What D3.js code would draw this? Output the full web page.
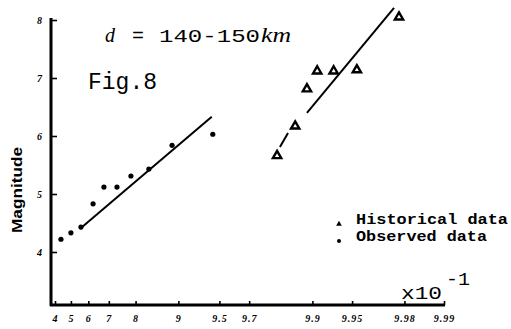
<!DOCTYPE html>
<html>
<head>
<script src="https://d3js.org/d3.v7.min.js"></script>
<style>
    body { margin: 0; background: #fff; }
    svg { display: block; background: #fff; }
    .tick text {
        font-family: "Liberation Serif", serif;
        font-weight: bold;
        font-style: italic;
        font-size: 10px;
        fill: #000;
    }
    .tick line { stroke: #000; stroke-width: 1.6; }
    .mono { font-family: "Liberation Mono", monospace; fill: #000; }
</style>
</head>
<body>
<div id="chart"></div>
<script>
const width = 511;
const height = 329;

// axis ticks (cumulative probability x10^-1, Gumbel paper)
const xTicks = [4, 5, 6, 7, 8, 9, 9.5, 9.7, 9.9, 9.95, 9.98, 9.99];
const yTicks = [4, 5, 6, 7, 8];

// observed data (dots)
const observedX = [4.38, 5.0, 5.59, 6.25, 6.78, 7.34, 7.85, 8.38, 8.89, 9.44];
const observedM = [4.22, 4.33, 4.43, 4.83, 5.12, 5.12, 5.31, 5.43, 5.84, 6.03];

// historical data (triangles)
const historicalX = [9.815, 9.865, 9.890, 9.908, 9.931, 9.954, 9.978];
const historicalM = [5.66, 6.17, 6.81, 7.12, 7.12, 7.14, 8.05];

// fitted lines
const observedFitX = [5.54, 9.43];
const observedFitM = [4.40, 6.33];
const historicalFitX = [9.890, 9.976];
const historicalFitM = [6.40, 8.21];
const historicalDashX = [9.824, 9.847];
const historicalDashM = [5.81, 6.05];

const gumbel = v => -Math.log(-Math.log(v / 10));

const xg = d3.scaleLinear()
    .domain([gumbel(4), gumbel(9.99)])
    .range([55, 444]);
const x = v => xg(gumbel(v));
const y = d3.scaleLinear().domain([4, 8]).range([252, 20]);

const axisY = 305, axisX = 51;

const svg = d3.select('#chart').append('svg')
    .attr('width', width)
    .attr('height', height);

// x axis
const xAxis = svg.append('g')
    .attr('transform', `translate(0,${axisY})`)
    .call(d3.axisBottom(xg)
        .tickValues(xTicks.map(gumbel))
        .tickFormat((d, i) => xTicks[i])
        .tickSize(-4)
        .tickSizeOuter(0)
        .tickPadding(10));
xAxis.select('.domain').remove();
xAxis.selectAll('.tick text').attr('letter-spacing', 1);

// y axis
const yAxis = svg.append('g')
    .attr('transform', `translate(${axisX},0)`)
    .call(d3.axisLeft(y)
        .tickValues(yTicks)
        .tickFormat(d3.format('d'))
        .tickSize(-6)
        .tickSizeOuter(0)
        .tickPadding(9));
yAxis.select('.domain').remove();
yAxis.selectAll('.tick text').attr('font-size', 9);

// thick axis lines
svg.append('line')
    .attr('x1', axisX).attr('x2', axisX)
    .attr('y1', 18).attr('y2', axisY + 1)
    .attr('stroke', '#000').attr('stroke-width', 3);
svg.append('line')
    .attr('x1', axisX - 1).attr('x2', 445)
    .attr('y1', axisY).attr('y2', axisY)
    .attr('stroke', '#000').attr('stroke-width', 3);

const line = d3.line().x(d => x(d[0])).y(d => y(d[1]));

[[observedFitX, observedFitM], [historicalFitX, historicalFitM], [historicalDashX, historicalDashM]]
    .forEach(([xs, ms]) => {
        svg.append('path')
            .datum(d3.zip(xs, ms))
            .attr('d', line)
            .attr('fill', 'none')
            .attr('stroke', '#000')
            .attr('stroke-width', 2);
    });

// observed dots
svg.selectAll('circle.obs')
    .data(d3.zip(observedX, observedM))
    .join('circle')
    .attr('class', 'obs')
    .attr('cx', d => x(d[0]))
    .attr('cy', d => y(d[1]))
    .attr('r', 2.6)
    .attr('fill', '#000');

// historical triangles
svg.selectAll('path.hist')
    .data(d3.zip(historicalX, historicalM))
    .join('path')
    .attr('class', 'hist')
    .attr('d', d3.symbol(d3.symbolTriangle, 30))
    .attr('transform', d => `translate(${x(d[0])},${y(d[1])})`)
    .attr('fill', '#fff')
    .attr('stroke', '#000')
    .attr('stroke-width', 2.4);

// titles
svg.append('text')
    .attr('x', 105).attr('y', 42)
    .attr('font-family', '"Liberation Serif", serif')
    .attr('font-style', 'italic')
    .attr('font-size', 20)
    .text('d');
svg.append('text')
    .attr('class', 'mono')
    .attr('x', 132).attr('y', 42)
    .attr('font-size', 20)
    .text('=');
svg.append('text')
    .attr('class', 'mono')
    .attr('x', 159).attr('y', 42)
    .attr('font-size', 19)
    .attr('textLength', 101)
    .attr('lengthAdjust', 'spacingAndGlyphs')
    .text('140-150');
svg.append('text')
    .attr('x', 261).attr('y', 42)
    .attr('font-family', '"Liberation Serif", serif')
    .attr('font-style', 'italic')
    .attr('font-size', 20)
    .attr('textLength', 30)
    .attr('lengthAdjust', 'spacingAndGlyphs')
    .text('km');
svg.append('text')
    .attr('class', 'mono')
    .attr('x', 88).attr('y', 89)
    .attr('font-size', 24)
    .attr('textLength', 69)
    .attr('lengthAdjust', 'spacingAndGlyphs')
    .text('Fig.8');

// y label
svg.append('text')
    .attr('transform', 'translate(22,190) rotate(-90)')
    .attr('text-anchor', 'middle')
    .attr('font-family', '"Liberation Sans", sans-serif')
    .attr('font-weight', 'bold')
    .attr('font-size', 14)
    .attr('textLength', 86)
    .attr('lengthAdjust', 'spacingAndGlyphs')
    .text('Magnitude');

// x10^-1
svg.append('text')
    .attr('class', 'mono')
    .attr('x', 401).attr('y', 299)
    .attr('font-size', 19)
    .attr('textLength', 41)
    .attr('lengthAdjust', 'spacingAndGlyphs')
    .text('x10');
svg.append('text')
    .attr('class', 'mono')
    .attr('x', 446).attr('y', 285)
    .attr('font-size', 19)
    .attr('textLength', 24)
    .attr('lengthAdjust', 'spacingAndGlyphs')
    .text('-1');

// legend
const legend = svg.append('g');
legend.append('path')
    .attr('d', d3.symbol(d3.symbolTriangle, 14))
    .attr('transform', 'translate(339,224)')
    .attr('fill', '#000');
legend.append('circle')
    .attr('cx', 339).attr('cy', 241).attr('r', 2)
    .attr('fill', '#000');
legend.append('text')
    .attr('class', 'mono')
    .attr('x', 356).attr('y', 224)
    .attr('font-size', 15)
    .attr('font-weight', 'bold')
    .attr('textLength', 152)
    .attr('lengthAdjust', 'spacingAndGlyphs')
    .text('Historical data');
legend.append('text')
    .attr('class', 'mono')
    .attr('x', 356).attr('y', 241)
    .attr('font-size', 15)
    .attr('font-weight', 'bold')
    .attr('textLength', 131)
    .attr('lengthAdjust', 'spacingAndGlyphs')
    .text('Observed data');
</script>
</body>
</html>
